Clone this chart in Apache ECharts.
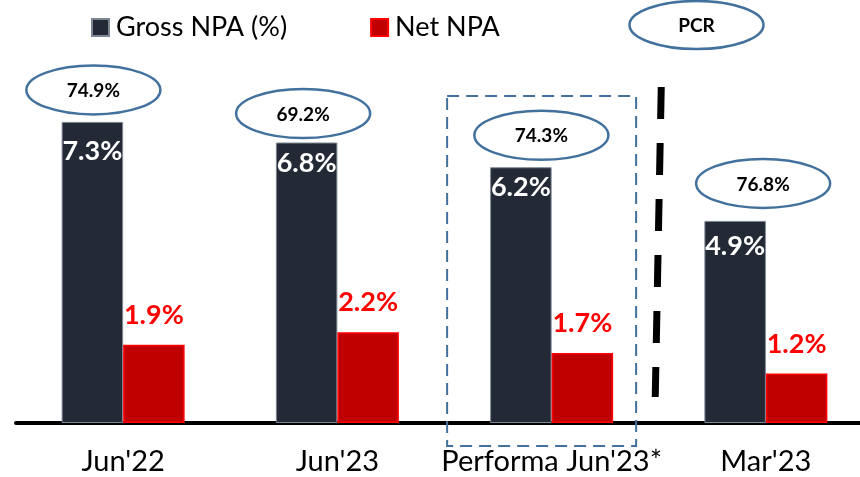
<!DOCTYPE html>
<html>
<head>
<meta charset="utf-8">
<script src="https://cdn.jsdelivr.net/npm/echarts@6/dist/echarts.min.js"></script>
<style>
  html, body { margin: 0; padding: 0; background: #ffffff; }
  #chart { width: 860px; height: 477px; }
</style>
</head>
<body>
<div id="chart"></div>
<script>
// ---- data ----
const categories = ["Jun'22", "Jun'23", "Performa Jun'23*", "Mar'23"];
const grossNpa = [7.3, 6.8, 6.2, 4.9];
const netNpa = [1.9, 2.2, 1.7, 1.2];
const pcr = [74.9, 69.2, 74.3, 76.8];

// ---- layout tweaks ----
// PCR callout centre, in px relative to the top centre of each gross bar
const pcrNudge = [[1, -32], [-3.5, -29], [20.5, -32], [28, -37.5]];
// extra downward shift of each white value label inside the gross bars
const grossLabelNudge = [9, 0, 0, 5];

const FONT = 'Lato';
const BAR_W = 61.5;
const GROSS_COLOR = '#232a35';
const NET_COLOR = '#c00000';
const CALLOUT_BLUE = '#41719c';

const chart = echarts.init(document.getElementById('chart'), null, { renderer: 'canvas' });

function pcrCallout(params, api) {
  const i = api.value(0);
  const top = api.coord([i, api.value(1)]);
  const cx = top[0] - BAR_W / 2 + pcrNudge[i][0];
  const cy = top[1] + pcrNudge[i][1];
  return {
    type: 'group',
    children: [
      {
        type: 'ellipse',
        shape: { cx: cx, cy: cy, rx: 67, ry: 24.5 },
        style: { fill: '#ffffff', stroke: CALLOUT_BLUE, lineWidth: 2.5 }
      },
      {
        type: 'text',
        x: cx, y: cy + 1,
        style: {
          text: api.value(2).toFixed(1) + '%',
          fill: '#000000', fontFamily: FONT, fontWeight: 'bold', fontSize: 19,
          align: 'center', verticalAlign: 'middle'
        }
      }
    ]
  };
}

function proformaMarks(params, api) {
  const i = api.value(0);
  const base = api.coord([i, 0]);
  const band = api.size([1, 0])[0];
  const cx = base[0];
  const y0 = base[1];
  const bx = cx + band / 2;
  return {
    type: 'group',
    children: [
      {
        // dashed frame around the pro-forma group
        type: 'rect',
        shape: { x: cx - 104.5, y: y0 - 327, width: 189, height: 350 },
        style: { fill: 'none', stroke: CALLOUT_BLUE, lineWidth: 2, lineDash: [12, 7] }
      },
      {
        // heavy dashed divider before the Mar'23 group
        type: 'line',
        shape: { x1: bx + 2.5, y1: y0 - 336, x2: bx - 3.5, y2: y0 - 26 },
        style: { stroke: '#000000', lineWidth: 7, lineDash: [32, 24], lineCap: 'butt' }
      }
    ]
  };
}

const option = {
  backgroundColor: '#ffffff',
  animation: false,
  textStyle: { fontFamily: FONT },
  legend: {
    data: ['Gross NPA (%)', 'Net NPA'],
    left: 91,
    top: 14,
    padding: 0,
    itemWidth: 17,
    itemHeight: 17,
    itemGap: 83,
    icon: 'rect',
    textStyle: { fontFamily: FONT, fontSize: 27, color: '#000000', padding: [0, 0, 0, 2] }
  },
  grid: { left: 16, top: 93, width: 857, height: 330, containLabel: false, outerBoundsMode: 'none' },
  xAxis: {
    type: 'category',
    data: categories,
    axisLine: { show: true, lineStyle: { color: '#000000', width: 4 } },
    axisTick: { show: false },
    axisLabel: { fontFamily: FONT, fontSize: 29, color: '#000000', margin: 24, interval: 0 }
  },
  yAxis: {
    type: 'value',
    min: 0, max: 8,
    show: false,
    splitLine: { show: false }
  },
  series: [
    {
      name: 'Gross NPA (%)',
      type: 'bar',
      barWidth: BAR_W,
      barGap: '0%',
      data: grossNpa.map((v, i) => ({ value: v, label: { offset: [0, grossLabelNudge[i]] } })),
      itemStyle: { color: GROSS_COLOR, borderColor: '#7d8794', borderWidth: 1 },
      label: {
        show: true, position: 'insideTop', distance: 7,
        formatter: '{c}%',
        fontFamily: FONT, fontWeight: 'bold', fontSize: 27, color: '#ffffff'
      },
      z: 2
    },
    {
      name: 'Net NPA',
      type: 'bar',
      barWidth: BAR_W,
      data: netNpa,
      itemStyle: { color: NET_COLOR, borderColor: '#ff0000', borderWidth: 1.5 },
      label: {
        show: true, position: 'top', distance: 16,
        formatter: '{c}%',
        fontFamily: FONT, fontWeight: 'bold', fontSize: 27, color: '#ff0000'
      },
      z: 2
    },
    {
      name: 'PCR',
      type: 'custom',
      renderItem: pcrCallout,
      data: categories.map((c, i) => [i, grossNpa[i], pcr[i]]),
      encode: { x: 0, y: 1 },
      silent: true,
      z: 5
    },
    {
      name: 'proforma',
      type: 'custom',
      renderItem: proformaMarks,
      data: [[2, 0]],
      encode: { x: 0, y: 1 },
      silent: true,
      z: 1
    }
  ],
  graphic: [
    {
      type: 'group',
      children: [
        {
          type: 'ellipse',
          shape: { cx: 696.5, cy: 25, rx: 67, ry: 24 },
          style: { fill: '#ffffff', stroke: CALLOUT_BLUE, lineWidth: 2.5 }
        },
        {
          type: 'text',
          x: 696.5, y: 26,
          style: {
            text: 'PCR', fill: '#000000', fontFamily: FONT, fontWeight: 'bold', fontSize: 19,
            align: 'center', verticalAlign: 'middle'
          }
        }
      ]
    }
  ]
};

chart.setOption(option);
</script>
</body>
</html>
